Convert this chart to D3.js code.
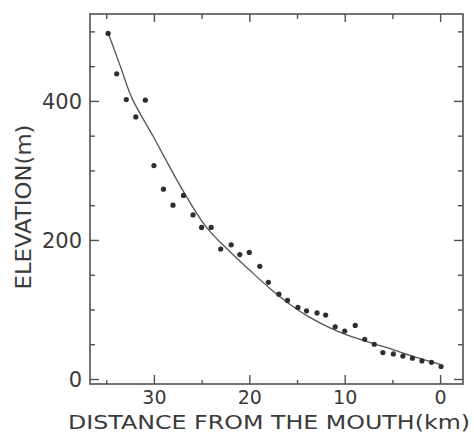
<!DOCTYPE html>
<html>
<head>
<meta charset="utf-8">
<script src="https://cdn.jsdelivr.net/npm/d3@7"></script>
<style>
  body { margin: 0; background: #fff; }
  svg { display: block; }
  text { font-family: "DejaVu Sans", sans-serif; fill: #3a3a3a; }
</style>
</head>
<body>
<svg width="474" height="435"></svg>
<script>
// observed points (distance from mouth in km, elevation in m)
const distKm = [34.8, 33.9, 32.9, 31.9, 30.9, 30.0, 29.0, 28.0, 26.9, 25.9, 25.0, 24.0,
  23.0, 21.9, 21.0, 20.0, 18.9, 18.0, 16.9, 16.0, 14.9, 14.0, 12.9, 12.0,
  11.0, 10.0, 8.9, 7.9, 6.9, 6.0, 4.9, 3.9, 2.9, 1.9, 0.9, -0.1];
const elevM = [497, 439, 402, 377, 401, 307, 273, 250, 264, 236, 218, 218,
  187, 193, 179, 182, 162, 139, 122, 113, 103, 98, 95, 92,
  75, 69, 77, 57, 50, 38, 36, 33, 30, 26, 24, 18];

// fitted profile curve
const curveKm = [34.8, 34.4, 33.5, 32.3, 30.0, 27.0, 24.6, 22.1, 20.0, 17.9, 15.8, 13.7, 11.6, 9.5, 7.0, 4.9, 2.5, 0];
const curveElev = [497, 483, 449, 404, 347, 272, 220, 184, 157, 131, 108, 89, 74, 62, 51, 42, 31, 21];

const xMajor = [30, 20, 10, 0];
const xMinor = [35, 25, 15, 5];
const yMajor = [0, 200, 400];
const yMinor = [50, 100, 150, 250, 300, 350, 450, 500];

const svg = d3.select("svg");
const frame = { left: 90, right: 463, top: 14, bottom: 384 };
const lineColor = "#505050";

const x = d3.scaleLinear().domain([36.7, -2.4]).range([frame.left, frame.right]);
const y = d3.scaleLinear().domain([-7.2, 525]).range([frame.bottom, frame.top]);

// frame
svg.append("rect")
  .attr("x", frame.left).attr("y", frame.top)
  .attr("width", frame.right - frame.left).attr("height", frame.bottom - frame.top)
  .attr("fill", "none")
  .attr("stroke", lineColor)
  .attr("stroke-width", 1.6);

function styleAxis(g) {
  g.select(".domain").remove();
  g.selectAll("line").attr("stroke", lineColor).attr("stroke-width", 1.4);
}

// ticks pointing inwards on all four sides
svg.append("g").attr("transform", `translate(0,${frame.bottom})`)
  .call(d3.axisBottom(x).tickValues(xMajor).tickSize(-9).tickFormat(d3.format("d")))
  .call(styleAxis)
  .call(g => g.selectAll("text").attr("y", 20).attr("dy", null)
    .style("font-size", "19px").style("font-family", "DejaVu Sans").attr("fill", "#3a3a3a"));
svg.append("g").attr("transform", `translate(0,${frame.bottom})`)
  .call(d3.axisBottom(x).tickValues(xMinor).tickSize(-4).tickFormat(""))
  .call(styleAxis);
svg.append("g").attr("transform", `translate(0,${frame.top})`)
  .call(d3.axisTop(x).tickValues(xMajor).tickSize(-8).tickFormat(""))
  .call(styleAxis);
svg.append("g").attr("transform", `translate(0,${frame.top})`)
  .call(d3.axisTop(x).tickValues(xMinor).tickSize(-5).tickFormat(""))
  .call(styleAxis);

svg.append("g").attr("transform", `translate(${frame.left},0)`)
  .call(d3.axisLeft(y).tickValues(yMajor).tickSize(-9).tickFormat(d3.format("d")))
  .call(styleAxis)
  .call(g => g.selectAll("text").attr("x", -8).attr("dy", "0.36em")
    .style("font-size", "21px").style("font-family", "DejaVu Sans").attr("fill", "#3a3a3a"));
svg.append("g").attr("transform", `translate(${frame.left},0)`)
  .call(d3.axisLeft(y).tickValues(yMinor).tickSize(-5).tickFormat(""))
  .call(styleAxis);
svg.append("g").attr("transform", `translate(${frame.right},0)`)
  .call(d3.axisRight(y).tickValues(yMajor).tickSize(-9).tickFormat(""))
  .call(styleAxis);
svg.append("g").attr("transform", `translate(${frame.right},0)`)
  .call(d3.axisRight(y).tickValues(yMinor).tickSize(-5).tickFormat(""))
  .call(styleAxis);

// fitted curve
const curve = d3.range(curveKm.length).map(i => ({ km: curveKm[i], e: curveElev[i] }));
svg.append("path")
  .datum(curve)
  .attr("fill", "none")
  .attr("stroke", "#555")
  .attr("stroke-width", 1.3)
  .attr("d", d3.line().x(d => x(d.km)).y(d => y(d.e)).curve(d3.curveCatmullRom));

// observed points
const pts = d3.range(distKm.length).map(i => ({ km: distKm[i], e: elevM[i] }));
svg.selectAll("circle")
  .data(pts)
  .enter()
  .append("circle")
  .attr("cx", d => x(d.km))
  .attr("cy", d => y(d.e))
  .attr("r", 2.6)
  .attr("fill", "#2e2e2e");

// axis titles
svg.append("text")
  .attr("x", 269).attr("y", 429)
  .attr("text-anchor", "middle")
  .attr("textLength", 402)
  .attr("lengthAdjust", "spacingAndGlyphs")
  .style("font-size", "20px")
  .text("DISTANCE FROM THE MOUTH(km)");

svg.append("text")
  .attr("transform", "translate(31,207) rotate(-90)")
  .attr("text-anchor", "middle")
  .attr("textLength", 165)
  .attr("lengthAdjust", "spacingAndGlyphs")
  .style("font-size", "22px")
  .text("ELEVATION(m)");
</script>
</body>
</html>
